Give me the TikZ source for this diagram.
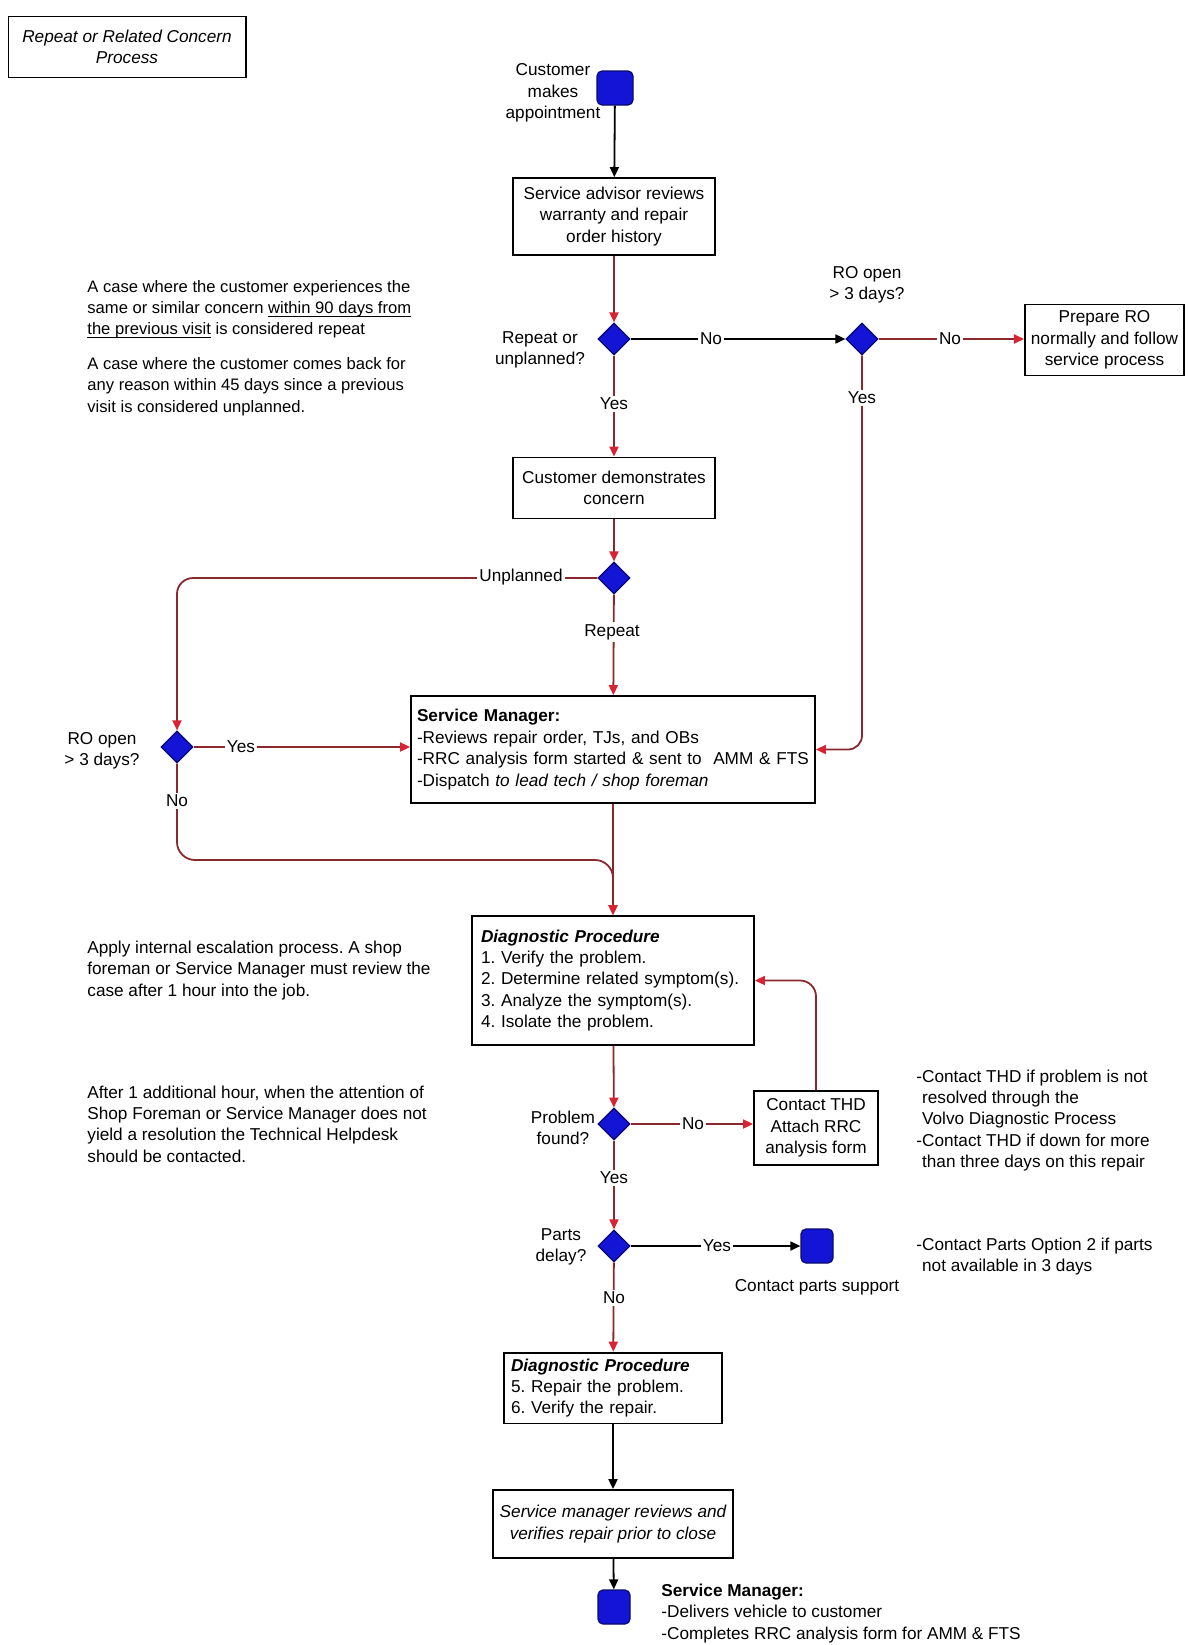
\documentclass[tikz,border=0pt]{standalone}
\usepackage{fontspec}
\setmainfont{Liberation Sans}
\usetikzlibrary{shapes.geometric,arrows.meta,calc}
\definecolor{lnred}{RGB}{140,40,45}
\definecolor{tipred}{RGB}{215,35,50}
\definecolor{dfill}{RGB}{20,20,215}
\definecolor{dedge}{RGB}{10,10,110}
% underline at a fixed depth, whatever the letters
\newcommand\undl[1]{\underline{\smash{#1}}}
\frenchspacing

\begin{document}
\begin{tikzpicture}[x=0.5pt,y=-0.5pt,
  every node/.style={font=\fontsize{8.6}{10.7}\selectfont},
  procbox/.style={draw, line width=0.9pt, align=center, inner sep=3pt},
  leftbox/.style={draw, line width=0.9pt, align=left, inner xsep=5pt, inner ysep=3pt},
  decision/.style={diamond, draw=dedge, fill=dfill, line width=0.6pt,
    minimum width=16pt, minimum height=16pt, inner sep=0pt},
  terminal/.style={rectangle, rounded corners=2.5pt, draw=dedge, fill=dfill,
    line width=0.6pt, minimum width=16pt, minimum height=17pt, inner sep=0pt},
  note/.style={align=left, inner sep=0pt, anchor=west},
  qlabel/.style={align=center, inner sep=0pt},
  lbl/.style={fill=white, inner sep=1pt},
  blk/.style={line width=0.9pt, -{Triangle[length=5pt,width=4.5pt]}},
  redln/.style={draw=lnred, line width=0.9pt, -{Triangle[length=5pt,width=4.5pt,color=tipred]}},
]
\fill[white] (0,0) rectangle (1188,1645);
\useasboundingbox (0,0) rectangle (1188,1645);

% title
\node[procbox, minimum width=118.6pt, minimum height=30.5pt,
  font=\fontsize{8.6}{10.7}\selectfont\itshape] (title) at (127,47)
  {Repeat or Related Concern\\Process};

% main column
\node[terminal, minimum width=18pt] (startsq) at (615,88) {};
\node[qlabel] (startlbl) at (553,93) {Customer\\makes\\appointment};
\node[procbox, minimum width=101pt, minimum height=38.5pt] (advisor) at (614,216.5)
  {Service advisor reviews\\warranty and repair\\order history};

\node[decision] (d1) at (614,339) {};
\node[qlabel] (d1lbl) at (540,350) {Repeat or\\unplanned?};
\node[decision] (d2) at (862,339) {};
\node[qlabel] (d2lbl) at (867,285) {RO open\\> 3 days?};
\node[procbox, minimum width=79.5pt, minimum height=35.5pt] (prepro) at (1104.5,340)
  {Prepare RO\\normally and follow\\service process};

\node[procbox, minimum width=101pt, minimum height=30.5pt] (demo) at (614,488)
  {Customer demonstrates\\concern};
\node[decision] (d3) at (614,578) {};
\node[decision] (d4) at (177,747) {};
\node[qlabel] (d4lbl) at (102,751) {RO open\\> 3 days?};

\node[leftbox, text width=196pt, inner xsep=3pt, minimum height=53.5pt] (sm) at (613,749.5)
  {\textbf{Service Manager:}\\
   -Reviews repair order, TJs, and OBs\\
   -RRC analysis form started \& sent to\ \ AMM \& FTS\\
   -Dispatch \textit{to lead tech / shop foreman}};

\node[leftbox, text width=132pt, inner xsep=4.5pt, minimum height=64.5pt] (diag1) at (613,980.5)
  {\textbf{\textit{Diagnostic Procedure}}\\
   1. Verify the problem.\\
   2. Determine related symptom(s).\\
   3. Analyze the symptom(s).\\
   4. Isolate the problem.};

\node[decision] (d5) at (614,1124) {};
\node[qlabel] (d5lbl) at (563,1128) {Problem\\found?};
\node[procbox, minimum width=62pt, minimum height=36.75pt] (thd) at (816,1128)
  {Contact THD\\Attach RRC\\analysis form};

\node[decision] (d6) at (614,1246) {};
\node[qlabel] (d6lbl) at (561,1247) {Parts\\delay?};
\node[terminal] (partsq) at (817,1246) {};
\node[inner sep=0pt] (partslbl) at (817,1287) {Contact parts support};

\node[leftbox, text width=102pt, inner xsep=3.5pt, minimum height=34pt] (diag2) at (613,1388)
  {\textbf{\textit{Diagnostic Procedure}}\\
   5. Repair the problem.\\
   6. Verify the repair.};

\node[procbox, minimum width=120pt, minimum height=34pt,
  font=\fontsize{8.6}{10.7}\selectfont\itshape] (close) at (613,1524)
  {Service manager reviews and\\verifies repair prior to close};

\node[terminal] (endsq) at (614,1607) {};
\node[note] (endlbl) at (661,1613.5)
  {\textbf{Service Manager:}\\
   -Delivers vehicle to customer\\
   -Completes RRC analysis form for AMM \& FTS};

% side notes
\node[note, font=\fontsize{8.3}{10.7}\selectfont] (noterepeat) at (87,309.5)
  {A case where the customer experiences the\\
   same or similar concern \undl{within 90 days from}\\
   \undl{the previous visit} is considered repeat};
\node[note, font=\fontsize{8.3}{10.7}\selectfont] (noteunpl) at (87,386.5)
  {A case where the customer comes back for\\
   any reason within 45 days since a previous\\
   visit is considered unplanned.};
\node[note] (noteesc) at (87,970.5)
  {Apply internal escalation process. A shop\\
   foreman or Service Manager must review the\\
   case after 1 hour into the job.};
\node[note] (notehelp) at (87,1124)
  {After 1 additional hour, when the attention of\\
   Shop Foreman or Service Manager does not\\
   yield a resolution the Technical Helpdesk\\
   should be contacted.};
\node[note] (notethd) at (916,1120.5)
  {-Contact THD if problem is not\\
   \phantom{-}resolved through the\\
   \phantom{-}Volvo Diagnostic Process\\
   -Contact THD if down for more\\
   \phantom{-}than three days on this repair};
\node[note] (noteparts) at (916,1256.5)
  {-Contact Parts Option 2 if parts\\
   \phantom{-}not available in 3 days};

% connectors
\draw[blk] (startsq) -- (advisor);
\draw[redln] (advisor) -- (d1);
\draw[blk] (d1) -- (d2);
\draw[redln] (d2.east) -- (d2.east -| prepro.west);
\draw[redln, rounded corners=7pt] (d2.south) |- (sm.east);
\draw[redln] (d1) -- (demo);
\draw[redln] (demo) -- (d3);
\draw[redln, rounded corners=8pt] (d3.west) -| (d4.north);
\draw[redln] (d3) -- (sm);
\draw[redln] (d4.east) -- (d4.east -| sm.west);
\coordinate (join) at (613,860);
\draw[redln, rounded corners=9pt] (d4.south) |- (join) -- (diag1.north);
\draw[redln] (sm) -- (diag1);
\draw[redln] (diag1) -- (d5);
\draw[redln] (d5.east) -- (d5.east -| thd.west);
\draw[redln, rounded corners=8pt] (thd.north) |- (diag1.east);
\draw[redln] (d5) -- (d6);
\draw[blk] (d6) -- (partsq);
\draw[redln] (d6) -- (diag2);
\draw[blk] (diag2) -- (close);
\draw[blk] (close) -- (endsq);

% branch labels
\node[lbl] (lno1) at (711,339) {No};
\node[lbl] (lno2) at (950,339) {No};
\node[lbl] (lyes2) at (862,398) {Yes};
\node[lbl] (lyes1) at (614,404) {Yes};
\node[lbl] (lunpl) at (521,577) {Unplanned};
\node[lbl] (lrep) at (612,632) {Repeat};
\node[lbl] (lyes4) at (241,747) {Yes};
\node[lbl] (lno4) at (177,801) {No};
\node[lbl] (lno5) at (693,1124) {No};
\node[lbl] (lyes5) at (614,1178) {Yes};
\node[lbl] (lyes6) at (717,1246) {Yes};
\node[lbl] (lno6) at (614,1298) {No};
\end{tikzpicture}
\end{document}
